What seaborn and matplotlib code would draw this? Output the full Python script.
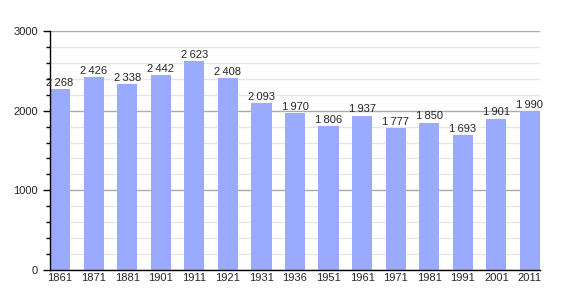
import matplotlib
matplotlib.use("Agg")
import matplotlib.pyplot as plt
import seaborn as sns
import pandas as pd
from matplotlib.ticker import MultipleLocator

years = ["1861", "1871", "1881", "1901", "1911", "1921", "1931", "1936", "1951",
         "1961", "1971", "1981", "1991", "2001", "2011"]
population = [2268, 2426, 2338, 2442, 2623, 2408, 2093, 1970, 1806, 1937,
              1777, 1850, 1693, 1901, 1990]
yticks = [0, 1000, 2000, 3000]

sns.set_style("white")
plt.rcParams['font.family'] = ['Liberation Sans', 'DejaVu Sans']

df = pd.DataFrame({"year": years, "pop": population})
fig = plt.figure(figsize=(5.7, 3.0), dpi=100)
ax = fig.add_axes([50/570, 30/300, 490/570, 239/300])

sns.barplot(data=df, x="year", y="pop", color="#99aaff", saturation=1,
            width=0.6, ax=ax, zorder=3, edgecolor="none")

ax.set_ylim(0, 3000)
ax.set_xlim(-0.3, len(years) - 0.7)
ax.set_yticks(yticks)
ax.set_yticklabels([str(t) for t in yticks], fontsize=8)
ax.yaxis.set_minor_locator(MultipleLocator(200))
ax.tick_params(axis="y", which="major", length=5, width=1, color="black", left=True)
ax.tick_params(axis="y", which="minor", length=3, width=1, color="black", left=True)
ax.tick_params(axis="x", length=0, labelsize=8, pad=2)
ax.grid(axis="y", which="major", color="#aaaaaa", linewidth=1, zorder=1)
ax.grid(axis="y", which="minor", color="#e6e6e6", linewidth=1, zorder=0)
ax.set_axisbelow(True)
for s in ["top", "right"]:
    ax.spines[s].set_visible(False)
for s in ["left", "bottom"]:
    ax.spines[s].set_color("black")
    ax.spines[s].set_linewidth(1)
    ax.spines[s].set_zorder(5)
ax.set_xlabel("")
ax.set_ylabel("")

for i, v in enumerate(population):
    label = f"{v:,}".replace(",", "\u2009")
    ax.text(i, v + 15, label, ha="center", va="bottom", fontsize=8, zorder=6,
            family=['Liberation Sans', 'DejaVu Sans'])

fig.savefig("out.png", dpi=100)
